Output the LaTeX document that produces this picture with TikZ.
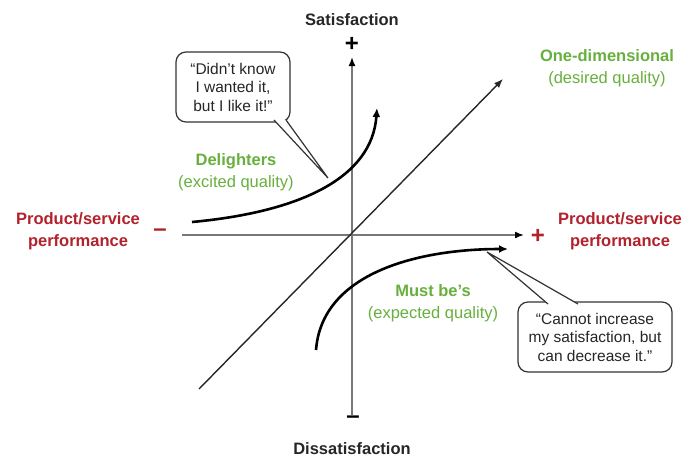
\documentclass[tikz,border=0pt]{standalone}
\usepackage{fontspec}
\setmainfont{Liberation Sans}
\usetikzlibrary{arrows.meta}
\definecolor{kred}{RGB}{178,34,44}
\definecolor{kgreen}{RGB}{104,176,62}
\definecolor{axisgray}{RGB}{120,120,120}
\begin{document}
\begin{tikzpicture}[x=1pt,y=-1pt,
  txt/.style={inner sep=0pt, align=center, font=\fontsize{16.5}{21.5}\selectfont},
  btxt/.style={txt, font=\fontsize{16.5}{21.5}\selectfont\bfseries},
  axislbl/.style={btxt, text=black!85},
  perf/.style={btxt, text=kred},
  quallbl/.style={txt, text=kgreen},
  sign/.style={inner sep=0pt, font=\fontsize{24}{24}\selectfont\bfseries},
  axisline/.style={draw=axisgray, line width=1.6pt, -{Latex[length=9pt,width=7pt,color=black]}},
  diag/.style={draw=black!85, line width=1.4pt, -{Latex[length=9pt,width=7pt]}},
  curve/.style={draw=black, line width=2.6pt, -{Latex[length=9pt,width=8pt]}},
  callout/.style={draw=black!80, line width=1.2pt, rounded corners=10pt, fill=white,
    inner sep=0pt, align=center, text=black!85, font=\fontsize{15.5}{18.5}\selectfont},
  pointer/.style={draw=black!80, line width=1.2pt, fill=white, line join=miter}
]
\useasboundingbox (0,0) rectangle (699,459);
\fill[white] (0,0) rectangle (699,459);

% axes
\coordinate (vtop) at (352,57);
\coordinate (vbot) at (352,415);
\coordinate (hleft) at (182,235);
\coordinate (hright) at (524,235);
\coordinate (dstart) at (199,389);
\coordinate (dend) at (503,79);
\draw[axisline] (vbot) -- (vtop);
\draw[axisline] (hleft) -- (hright);
\draw[diag] (dstart) -- (dend);

% axis labels
\node[axislbl] (sat) at (352,20) {Satisfaction};
\node[axislbl] (dis) at (352,449) {Dissatisfaction};
\node[sign, text=black] (splus) at (352,44) {+};
\node[sign, text=black] (sminus) at (353,420) {–};
\node[perf] (pleft) at (78,231) {Product/service\\performance};
\node[perf] (pright) at (620,231) {Product/service\\performance};
\node[sign, text=kred] (pminus) at (160,233) {–};
\node[sign, text=kred] (pplus) at (538,236) {+};

% quality labels
\node[quallbl] (onedim) at (607,68) {\textbf{One-dimensional}\\(desired quality)};
\node[quallbl] (deli) at (236,172) {\textbf{Delighters}\\(excited quality)};
\node[quallbl] (must) at (433,303) {\textbf{Must be’s}\\(expected quality)};

% curves
\coordinate (c1s) at (192,222);
\coordinate (c1e) at (377,108);
\draw[curve] (c1s) .. controls (300,212) and (372,178) .. (c1e);
\coordinate (c2s) at (316,350);
\coordinate (c2e) at (508,249);
\draw[curve] (c2s) .. controls (322,272) and (420,249) .. (c2e);

% callout 1
\node[callout, minimum width=114pt, minimum height=70pt] (box1) at (233,87)
  {“Didn’t know\\I wanted it,\\but I like it!”};
\coordinate (t1) at (328,178);
\coordinate (b1a) at (274,120);
\coordinate (b1b) at (286,120);
\fill[white] (b1a) -- (t1) -- (b1b) -- cycle;
\draw[pointer, fill=none] (b1a) -- (t1) -- (b1b);

% callout 2
\node[callout, minimum width=154pt, minimum height=70pt] (box2) at (595,337)
  {“Cannot increase\\my satisfaction, but\\can decrease it.”};
\coordinate (t2) at (487,252);
\coordinate (b2a) at (548,304);
\coordinate (b2b) at (578,304);
\fill[white] (b2a) -- (t2) -- (b2b) -- cycle;
\draw[pointer, fill=none] (b2a) -- (t2) -- (b2b);
\end{tikzpicture}
\end{document}
